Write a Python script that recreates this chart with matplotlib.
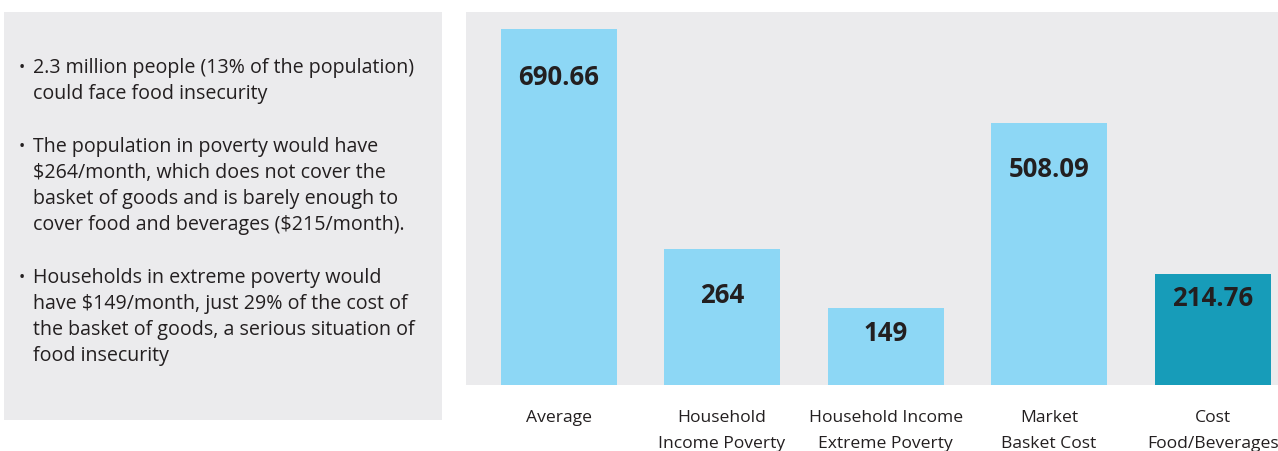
import matplotlib.pyplot as plt
from matplotlib.patches import Rectangle

plt.rcParams['font.family'] = ['Open Sans', 'DejaVu Sans']

# monthly amounts per category
categories = ["Average", "Household\nIncome Poverty", "Household Income\nExtreme Poverty",
              "Market\nBasket Cost", "Cost\nFood/Beverages"]
values = [690.66, 264, 149, 508.09, 214.76]
value_labels = ["690.66", "264", "149", "508.09", "214.76"]

notes = [
    ["2.3 million people (13% of the population)",
     "could face food insecurity"],
    ["The population in poverty would have",
     "$264/month, which does not cover the",
     "basket of goods and is barely enough to",
     "cover food and beverages ($215/month)."],
    ["Households in extreme poverty would",
     "have $149/month, just 29% of the cost of",
     "the basket of goods, a serious situation of",
     "food insecurity"],
]

light = "#8dd7f5"
dark = "#179cb9"
panel = "#ebebed"
ink = "#231f20"

W, H = 1278, 452
fig = plt.figure(figsize=(W / 100, H / 100), dpi=100)
fig.patch.set_facecolor("white")

# left text box
fig.patches.append(Rectangle((4 / W, 1 - 421 / H), 438 / W, 408 / H,
                             transform=fig.transFigure, facecolor=panel,
                             edgecolor="none", zorder=0))
y = 68
for para in notes:
    fig.text(19 / W, 1 - y / H, "•", fontsize=12, color=ink, va="center", ha="left")
    for line in para:
        fig.text(33 / W, 1 - y / H, line, fontsize=14.1, color=ink, va="center", ha="left")
        y += 26
    y += 27

# bar chart
ax = fig.add_axes([466 / W, 1 - 386 / H, (W - 466) / W, (386 - 13) / H])
ax.set_facecolor(panel)
colors = [light, light, light, light, dark]
pos = list(range(len(values)))
ax.bar(pos, values, width=0.71, color=colors, zorder=2)
ax.set_xlim(-0.566, 4.40)
ax.set_ylim(0, 723.6)

offsets = [-48, -46, -24, -45, -23]
for x, v, lab, off in zip(pos, values, value_labels, offsets):
    ax.annotate(lab, (x, v), xytext=(0, off * 0.72), textcoords="offset points",
                ha="center", va="center", fontsize=18.5, fontweight="bold", color=ink)

ax.set_xticks(pos)
ax.set_xticklabels(categories, fontsize=12.6, color=ink, linespacing=1.9)
ax.tick_params(axis="x", length=0, pad=17)
ax.set_yticks([])
for s in ax.spines.values():
    s.set_visible(False)

plt.savefig("out.png", dpi=100)
